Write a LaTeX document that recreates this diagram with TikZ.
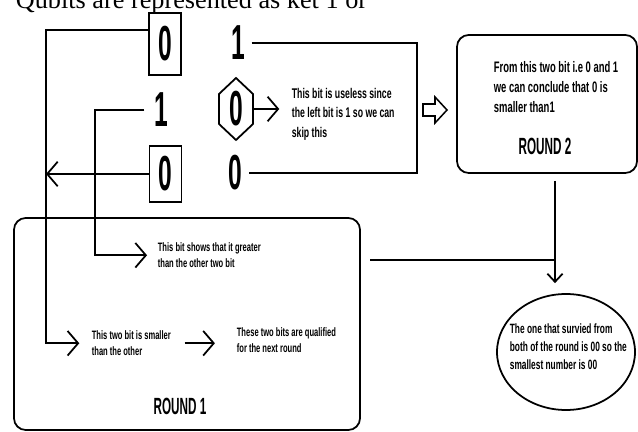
\documentclass[tikz,border=0pt]{standalone}
\usepackage{fontspec}
\setmainfont{Liberation Serif}
\newfontfamily\condfont[FakeStretch=0.62]{Liberation Sans}
\newfontfamily\narrowfont[FakeStretch=0.5]{Liberation Sans}
\usetikzlibrary{calc,arrows.meta,shapes.geometric}

\tikzset{
  note/.style={anchor=north west,align=left,inner sep=0pt,font=\condfont\bfseries\fontsize{12}{17}\selectfont},
  notesm/.style={note,font=\condfont\bfseries\fontsize{10.4}{13.5}\selectfont},
  bit/.style={inner sep=0pt,font=\narrowfont\bfseries\fontsize{42}{42}\selectfont},
  bitbox/.style={bit,draw,minimum width=32*0.03cm},
  roundtxt/.style={inner sep=0pt,anchor=north,font=\narrowfont\bfseries\fontsize{20}{20}\selectfont},
  barb/.style={-{Straight Barb[length=9pt,width=21pt]}},
  barbsm/.style={-{Straight Barb[length=7pt,width=13pt]}}
}

\begin{document}
\begin{tikzpicture}[x=0.03cm,y=-0.03cm,line width=1.5pt]
    \useasboundingbox (0,0) rectangle (638,432);

    % Gambar judul di atas (terpotong oleh tepi gambar)
    \node[anchor=base west,inner sep=0pt,font=\fontsize{22.4}{22}\selectfont] (title) at (15,9) {Qubits are represented as ket 1 or};

    % Gambar bit-bit 0 dan 1
    \node[bitbox,minimum height=62*0.03cm] (bitA) at (165,44) {0};
    \node[bit] (bitB) at (238,43) {1};
    \node[bit] (bitC) at (161,110) {1};
    \node[bit] (hex) at (236,109) {0};
    \node[bitbox,minimum height=56*0.03cm] (bitD) at (165.5,174) {0};
    \node[bit] (bitE) at (235,173) {0};

    % Gambar segi enam di sekitar bit 0 yang dilewati
    \draw ($(hex)+(0,-31)$) -- ($(hex)+(17,-15)$) -- ($(hex)+(17,15)$) -- ($(hex)+(0,31)$) -- ($(hex)+(-17,15)$) -- ($(hex)+(-17,-15)$) -- cycle;

    % Gambar keterangan bit yang tidak dipakai
    \node[note] (useless) at (291,87) {This bit is useless since\\the left bit is 1 so we can\\skip this};
    \draw[barb,shorten >=10pt] ($(hex)+(17,0)$) -- (hex -| useless.west);

    % Gambar garis kurung dari bit 1 dan 0 di kanan
    \coordinate (brk) at (417,0);
    \draw[shorten <=5pt,shorten >=5pt] (bitB.east) -- (bitB.east -| brk) -- (bitE.east -| brk) -- (bitE.east);

    % Gambar panah berongga menuju ronde 2
    \draw[line width=1.3pt] (423,104) -- (435,104) -- (435,97) -- (447,110) -- (435,123) -- (435,116) -- (423,116) -- cycle;

    % Gambar kotak ronde 2
    \node[draw,rounded corners=10pt,minimum width=180*0.03cm,minimum height=138*0.03cm] (round2) at (547,104) {};
    \node[note,font=\condfont\bfseries\fontsize{13}{17}\selectfont] (concl) at (493,61) {From this two bit i.e 0 and 1\\we can conclude that 0 is\\smaller than1};
    \node[roundtxt] (r2) at (545,137) {ROUND 2};

    % Gambar kotak ronde 1 beserta isinya
    \node[draw,rounded corners=10pt,minimum width=346*0.03cm,minimum height=212*0.03cm] (round1) at (187,324) {};
    \node[notesm] (greater) at (157,242) {This bit shows that it greater\\than the other two bit};
    \node[notesm] (smaller) at (91,330) {This two bit is smaller\\than the other};
    \node[notesm] (qualified) at (236,327) {These two bits are qualified\\for the next round};
    \node[roundtxt] (r1) at (180,397) {ROUND 1};
    \draw[barb,shorten <=11pt,shorten >=18pt] (smaller.east) -- (smaller.east -| qualified.west);

    % Gambar garis dari bit-bit ke keterangan ronde 1
    \coordinate (lft) at (46,0);
    \coordinate (mid) at (95,0);
    \coordinate (aout) at ($(bitA.north west)+(0,18)$);
    \draw[barb,shorten >=10pt] (aout) -| (lft |- smaller.west) -- (smaller.west);
    \draw[barb] (bitD.west) -- (bitD.west -| lft);
    \draw[barb,shorten <=7.5pt,shorten >=8.5pt] (bitC.west) -| (mid |- greater.west) -- (greater.west);

    % Gambar elips hasil akhir
    \node[draw,ellipse,minimum width=138*0.03cm,minimum height=116*0.03cm] (final) at (566,352) {};
    \node[note,font=\condfont\bfseries\fontsize{11.5}{15.5}\selectfont] (finaltxt) at (509,323) {The one that survied from\\both of the round is 00 so the\\smallest number is 00};

    % Gambar garis dari kedua ronde ke elips
    \coordinate (meet) at (555,260);
    \draw[shorten <=8pt] (round1.east |- meet) -- (meet);
    \draw[barbsm,shorten <=6pt,shorten >=8.5pt] (round2.south -| meet) -- (final.north -| meet);

\end{tikzpicture}
\end{document}
